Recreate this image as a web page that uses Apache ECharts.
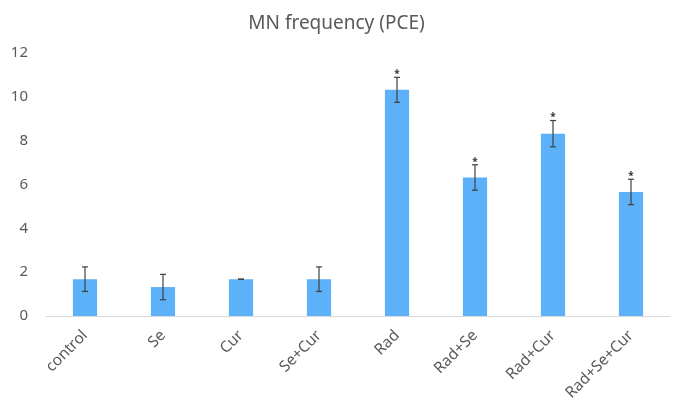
<!DOCTYPE html>
<html>
<head>
<meta charset="utf-8">
<title>MN frequency (PCE)</title>
<script src="https://cdn.jsdelivr.net/npm/echarts@6/dist/echarts.min.js"></script>
<style>
  html, body { margin: 0; padding: 0; background: #fff; }
  #main { width: 673px; height: 415px; }
</style>
</head>
<body>
<div id="main"></div>
<script>
// data
var categories = ['control', 'Se', 'Cur', 'Se+Cur', 'Rad', 'Rad+Se', 'Rad+Cur', 'Rad+Se+Cur'];
var means = [1.68, 1.32, 1.68, 1.68, 10.32, 6.32, 8.32, 5.66];
var errors = [0.56, 0.58, 0, 0.56, 0.57, 0.58, 0.6, 0.58];
var signif = [false, false, false, false, true, true, true, true];
var yTicks = [0, 2, 4, 6, 8, 10, 12];

var textColor = '#595959';
var barColor = '#5cb1f9';

var chart = echarts.init(document.getElementById('main'));

var errData = means.map(function (m, i) { return [i, m - errors[i], m + errors[i]]; });
var starData = [];
for (var i = 0; i < means.length; i++) {
  if (signif[i]) starData.push([i, means[i] + errors[i]]);
}

chart.setOption({
  animation: false,
  title: {
    text: 'MN frequency (PCE)',
    left: 'center',
    top: 9,
    textStyle: { color: textColor, fontSize: 19, fontWeight: 'normal', fontFamily: 'Noto Sans' }
  },
  grid: { left: 46, right: 3, top: 53, bottom: 99 },
  xAxis: {
    type: 'category',
    data: categories,
    axisLine: { lineStyle: { color: '#d9d9d9' } },
    axisTick: { show: false },
    axisLabel: { rotate: 45, color: textColor, fontSize: 15.5, fontFamily: 'Noto Sans', margin: 17 }
  },
  yAxis: {
    type: 'value',
    min: yTicks[0],
    max: yTicks[yTicks.length - 1],
    interval: 2,
    splitLine: { show: false },
    axisLine: { show: false },
    axisTick: { show: false },
    axisLabel: { color: textColor, fontSize: 15, fontFamily: 'Noto Sans', margin: 18 }
  },
  series: [
    {
      type: 'bar',
      data: means,
      barWidth: '31%',
      itemStyle: { color: barColor }
    },
    {
      type: 'custom',
      data: errData,
      z: 5,
      renderItem: function (params, api) {
        var x = api.value(0);
        var lo = api.coord([x, api.value(1)]);
        var hi = api.coord([x, api.value(2)]);
        var hw = 3;
        var style = { stroke: '#404040', lineWidth: 1.2 };
        return {
          type: 'group',
          children: [
            { type: 'line', shape: { x1: lo[0], y1: lo[1], x2: hi[0], y2: hi[1] }, style: style },
            { type: 'line', shape: { x1: lo[0] - hw, y1: lo[1], x2: lo[0] + hw, y2: lo[1] }, style: style },
            { type: 'line', shape: { x1: hi[0] - hw, y1: hi[1], x2: hi[0] + hw, y2: hi[1] }, style: style }
          ]
        };
      }
    },
    {
      type: 'custom',
      data: starData,
      z: 6,
      renderItem: function (params, api) {
        var p = api.coord([api.value(0), api.value(1)]);
        return {
          type: 'text',
          x: p[0],
          y: p[1] - 3,
          style: { text: '*', fill: '#333', font: 'bold 10px "Noto Sans"', textAlign: 'center', textVerticalAlign: 'middle' }
        };
      }
    }
  ]
});
</script>
</body>
</html>
